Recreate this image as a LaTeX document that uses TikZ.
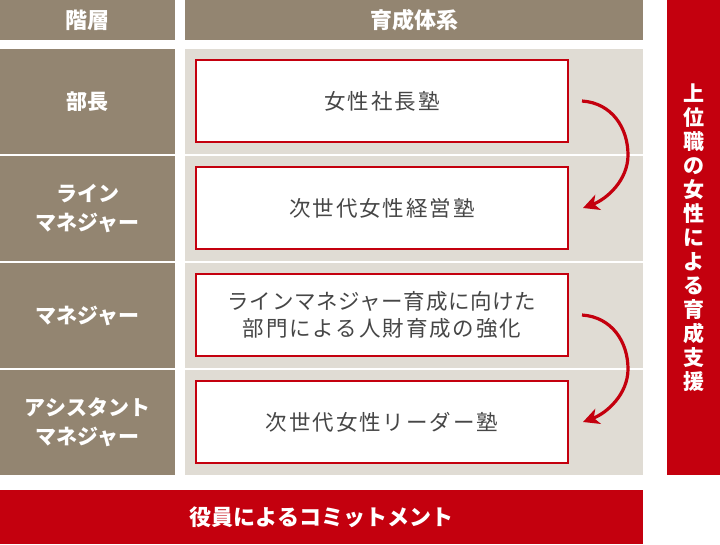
\documentclass[tikz,border=0pt]{standalone}
\usepackage{fontspec}
\newfontfamily\jp{Noto Sans CJK JP}
\newfontfamily\jpls{Noto Sans CJK JP}[LetterSpace=9]
\newfontfamily\jplt{Noto Sans CJK JP}[LetterSpace=3]
\usetikzlibrary{arrows.meta,calc}
\definecolor{hdr}{HTML}{938571}
\definecolor{pane}{HTML}{E0DCD4}
\definecolor{brand}{HTML}{C4000E}
\definecolor{ink}{HTML}{464646}
\begin{document}
\begin{tikzpicture}[x=1pt,y=-1pt,
  base/.style={anchor=north west,inner sep=0pt,outer sep=0pt},
  headbox/.style={base,fill=hdr,text=white,font={\jp\bfseries\fontsize{22}{24}\selectfont}},
  levelbox/.style={base,fill=hdr,text=white,align=center,minimum width=175pt,minimum height=105pt,font={\jp\bfseries\fontsize{21}{29}\selectfont}},
  panebox/.style={base,fill=pane,minimum width=458pt,minimum height=105pt},
  progbox/.style={anchor=center,inner sep=0pt,draw=brand,line width=2pt,fill=white,text=ink,align=center,minimum width=372pt,minimum height=82pt,font={\jpls\fontsize{21.5}{26.5}\selectfont}},
  redbar/.style={base,fill=brand,text=white,font={\jp\bfseries\fontsize{22}{24}\selectfont}},
  flow/.style={draw=brand,line width=3.2pt,-{Stealth[length=16pt,width=16pt,inset=4.5pt]}}
]
\useasboundingbox (0,0) rectangle (720,544);
\fill[white] (0,0) rectangle (720,544);
% headers
\node[headbox,minimum width=175pt,minimum height=40pt] (hL) at (0,0) {階層};
\node[headbox,minimum width=458pt,minimum height=40pt] (hR) at (185,0) {育成体系};
% left levels
\node[levelbox] (l1) at (0,49) {部長};
\node[levelbox] (l2) at (0,156) {ライン\\マネジャー};
\node[levelbox] (l3) at (0,263) {マネジャー};
\node[levelbox] (l4) at (0,370) {アシスタント\\マネジャー};
% panes
\node[panebox] (p1) at (185,49) {};
\node[panebox] (p2) at (185,156) {};
\node[panebox] (p3) at (185,263) {};
\node[panebox] (p4) at (185,370) {};
% programme boxes
\node[progbox] (b1) at (382,101) {女性社長塾};
\node[progbox] (b2) at (382,208) {次世代女性経営塾};
\node[progbox] (b3) at (382,315) {{\jplt ラインマネジャー育成に向けた}\\部門による人財育成の強化};
\node[progbox] (b4) at (382,422) {次世代女性リーダー塾};
% arrows
\coordinate (a1s) at ([xshift=13pt]b1.east);
\coordinate (a1e) at ([xshift=14pt]b2.east);
\coordinate (a2s) at ([xshift=13pt]b3.east);
\coordinate (a2e) at ([xshift=14pt]b4.east);
\draw[flow] (a1s) .. controls ($(a1s)+(30,2)$) and ($(a1e)+(45,-80)$) .. ($(a1e)+(45,-53)$) .. controls ($(a1e)+(45,-28)$) and ($(a1e)+(24,-9)$) .. (a1e);
\draw[flow] (a2s) .. controls ($(a2s)+(30,2)$) and ($(a2e)+(45,-80)$) .. ($(a2e)+(45,-53)$) .. controls ($(a2e)+(45,-28)$) and ($(a2e)+(24,-9)$) .. (a2e);
% right red bar
\node[redbar,minimum width=53pt,minimum height=475pt] (rb) at (667,0) {};
\node[text=white,align=center,inner sep=0pt,font={\jp\bfseries\fontsize{21}{24}\selectfont}] (rt) at (rb.center) {上\\位\\職\\の\\女\\性\\に\\よ\\る\\育\\成\\支\\援};
% bottom red bar
\node[redbar,minimum width=643pt,minimum height=54pt] (bb) at (0,490) {役員によるコミットメント};
\end{tikzpicture}
\end{document}
